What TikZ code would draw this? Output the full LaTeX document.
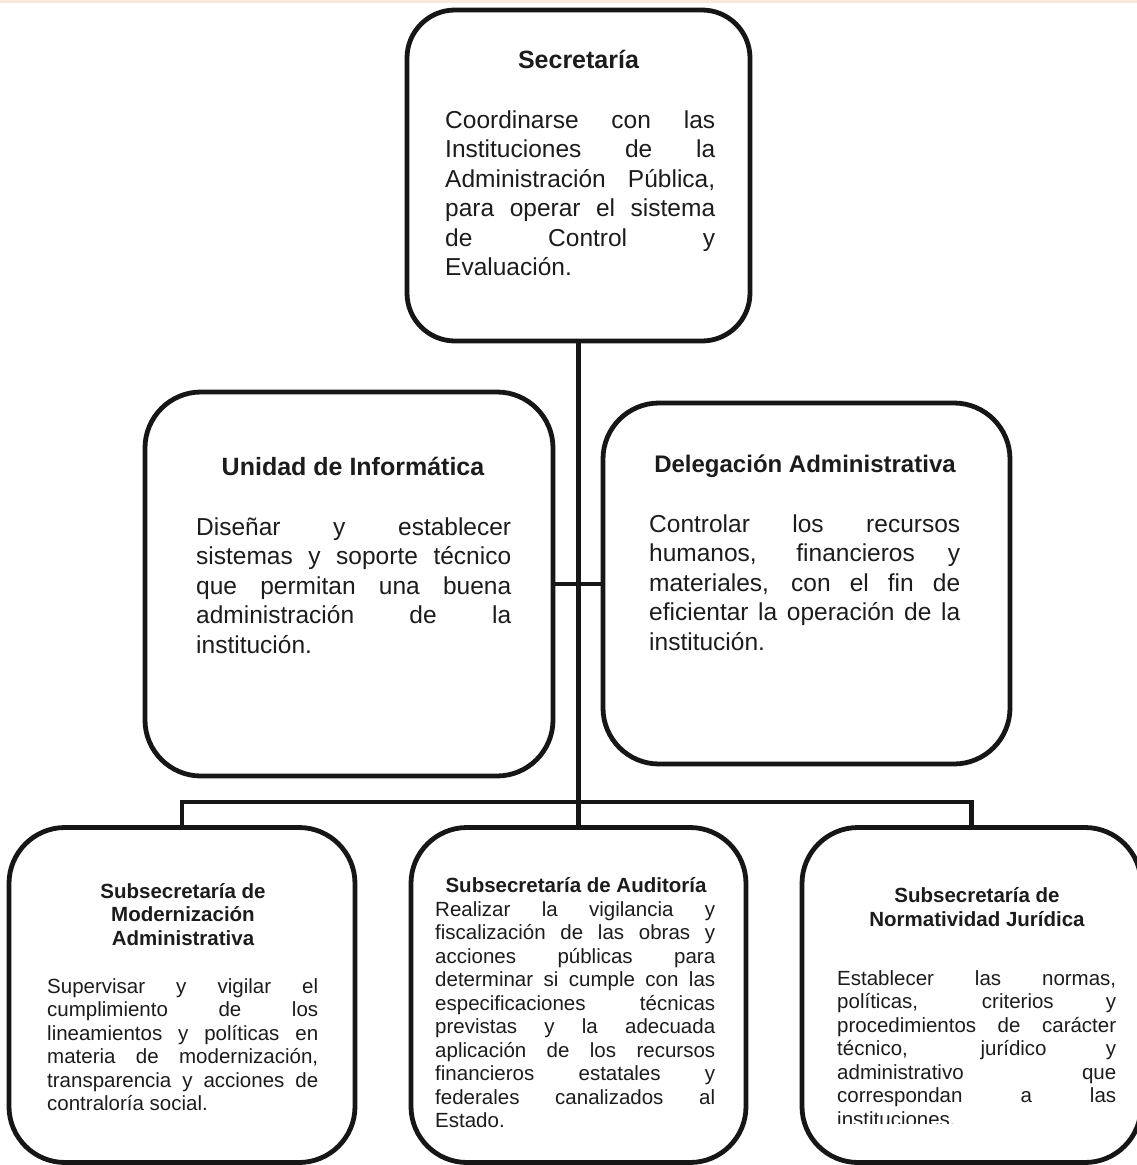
\documentclass[tikz,border=0pt]{standalone}
\usepackage{fontspec}
\setmainfont{Liberation Sans}
\definecolor{ink}{RGB}{22,22,22}
\definecolor{txtcol}{RGB}{28,28,28}
\definecolor{edgetint}{RGB}{250,232,220}
% justified line of a fixed-width paragraph
\newcommand\jline[1]{\makebox[\linewidth][s]{#1}\\}
\newcommand\bigtxt{\fontsize{24.5}{29.5}\selectfont}
\newcommand\smalltxt{\fontsize{20.5}{23.5}\selectfont}
\begin{document}
\begin{tikzpicture}[x=1pt,y=-1pt,
  orgbox/.style={draw=ink, line width=4.8pt, rounded corners=#1, inner sep=0pt, fill=white},
  orgbox/.default=56pt,
  link/.style={draw=ink, line width=4.8pt},
  head/.style={anchor=base, inner sep=0pt, text=txtcol, font=\bfseries},
  txt/.style={anchor=base west, inner sep=0pt, text=txtcol}]
\useasboundingbox (0,0) rectangle (1137,1165);
\fill[white] (0,0) rectangle (1137,1165);
\fill[edgetint] (0,0) rectangle (1137,3);

% boxes
\node[orgbox=48pt, minimum width=343pt, minimum height=331pt] (sec) at (578.5,175.5) {};
\node[orgbox, minimum width=408pt, minimum height=384pt] (uni) at (349,584) {};
\node[orgbox, minimum width=407pt, minimum height=361pt] (del) at (806.5,583.5) {};
\node[orgbox, minimum width=346pt, minimum height=335pt] (mod) at (182,995) {};
\node[orgbox, minimum width=335pt, minimum height=335pt] (aud) at (578.5,995) {};
\node[orgbox, minimum width=339pt, minimum height=335pt] (nor) at (971.5,995) {};

% connectors
\coordinate (bus) at (578.5,802);
\draw[link] (sec.south) -- (aud.north);
\draw[link] (uni.east) -- (uni.east -| del.west);
\draw[link] (mod.north) |- (bus) -| (nor.north);

% Secretaria
\node[head, font=\bfseries\fontsize{25}{30}\selectfont] (secT) at (578.5,68) {Secretaría};
\node[txt, font=\bigtxt] (secB) at (445,128) {\parbox[t]{270pt}{%
\jline{Coordinarse con las}
\jline{Instituciones de la}
\jline{Administración Pública,}
\jline{para operar el sistema}
\jline{de Control y}
Evaluación.}};

% Unidad de Informatica
\node[head, font=\bfseries\fontsize{25}{30}\selectfont] (uniT) at (353,475) {Unidad de Informática};
\node[txt, font=\bigtxt] (uniB) at (196,535) {\parbox[t]{315pt}{%
\jline{Diseñar y establecer}
\jline{sistemas y soporte técnico}
\jline{que permitan una buena}
\jline{administración de la}
institución.}};

% Delegacion Administrativa
\node[head, font=\bfseries\fontsize{24}{29}\selectfont] (delT) at (805,472) {Delegación Administrativa};
\node[txt, font=\bigtxt] (delB) at (649,532) {\parbox[t]{311pt}{%
\jline{Controlar los recursos}
\jline{humanos, financieros y}
\jline{materiales, con el fin de}
\jline{eficientar la operación de la}
institución.}};

% Subsecretaria de Modernizacion Administrativa
\node[head, font=\bfseries\fontsize{20.5}{23.5}\selectfont] (modT) at (183,898) {\parbox[t]{300pt}{\centering
Subsecretaría de\\ Modernización\\ Administrativa}};
\node[txt, font=\smalltxt] (modB) at (47,993) {\parbox[t]{271pt}{%
\jline{Supervisar y vigilar el}
\jline{cumplimiento de los}
\jline{lineamientos y políticas en}
\jline{materia de modernización,}
\jline{transparencia y acciones de}
contraloría social.}};

% Subsecretaria de Auditoria
\node[head, font=\bfseries\fontsize{20.5}{23.5}\selectfont] (audT) at (576,892) {Subsecretaría de Auditoría};
\node[txt, font=\smalltxt] (audB) at (435,916) {\parbox[t]{280pt}{%
\jline{Realizar la vigilancia y}
\jline{fiscalización de las obras y}
\jline{acciones públicas para}
\jline{determinar si cumple con las}
\jline{especificaciones técnicas}
\jline{previstas y la adecuada}
\jline{aplicación de los recursos}
\jline{financieros estatales y}
\jline{federales canalizados al}
Estado.}};

% Subsecretaria de Normatividad Juridica
\node[head, font=\bfseries\fontsize{20.5}{24.5}\selectfont] (norT) at (977,902) {\parbox[t]{300pt}{\centering
Subsecretaría de\\ Normatividad Jurídica}};
\begin{scope}
\clip (800,900) rectangle (1137,1123);
\node[txt, font=\smalltxt] (norB) at (837,985) {\parbox[t]{279pt}{%
\jline{Establecer las normas,}
\jline{políticas, criterios y}
\jline{procedimientos de carácter}
\jline{técnico, jurídico y}
\jline{administrativo que}
\jline{correspondan a las}
instituciones.}};
\end{scope}
\end{tikzpicture}
\end{document}
